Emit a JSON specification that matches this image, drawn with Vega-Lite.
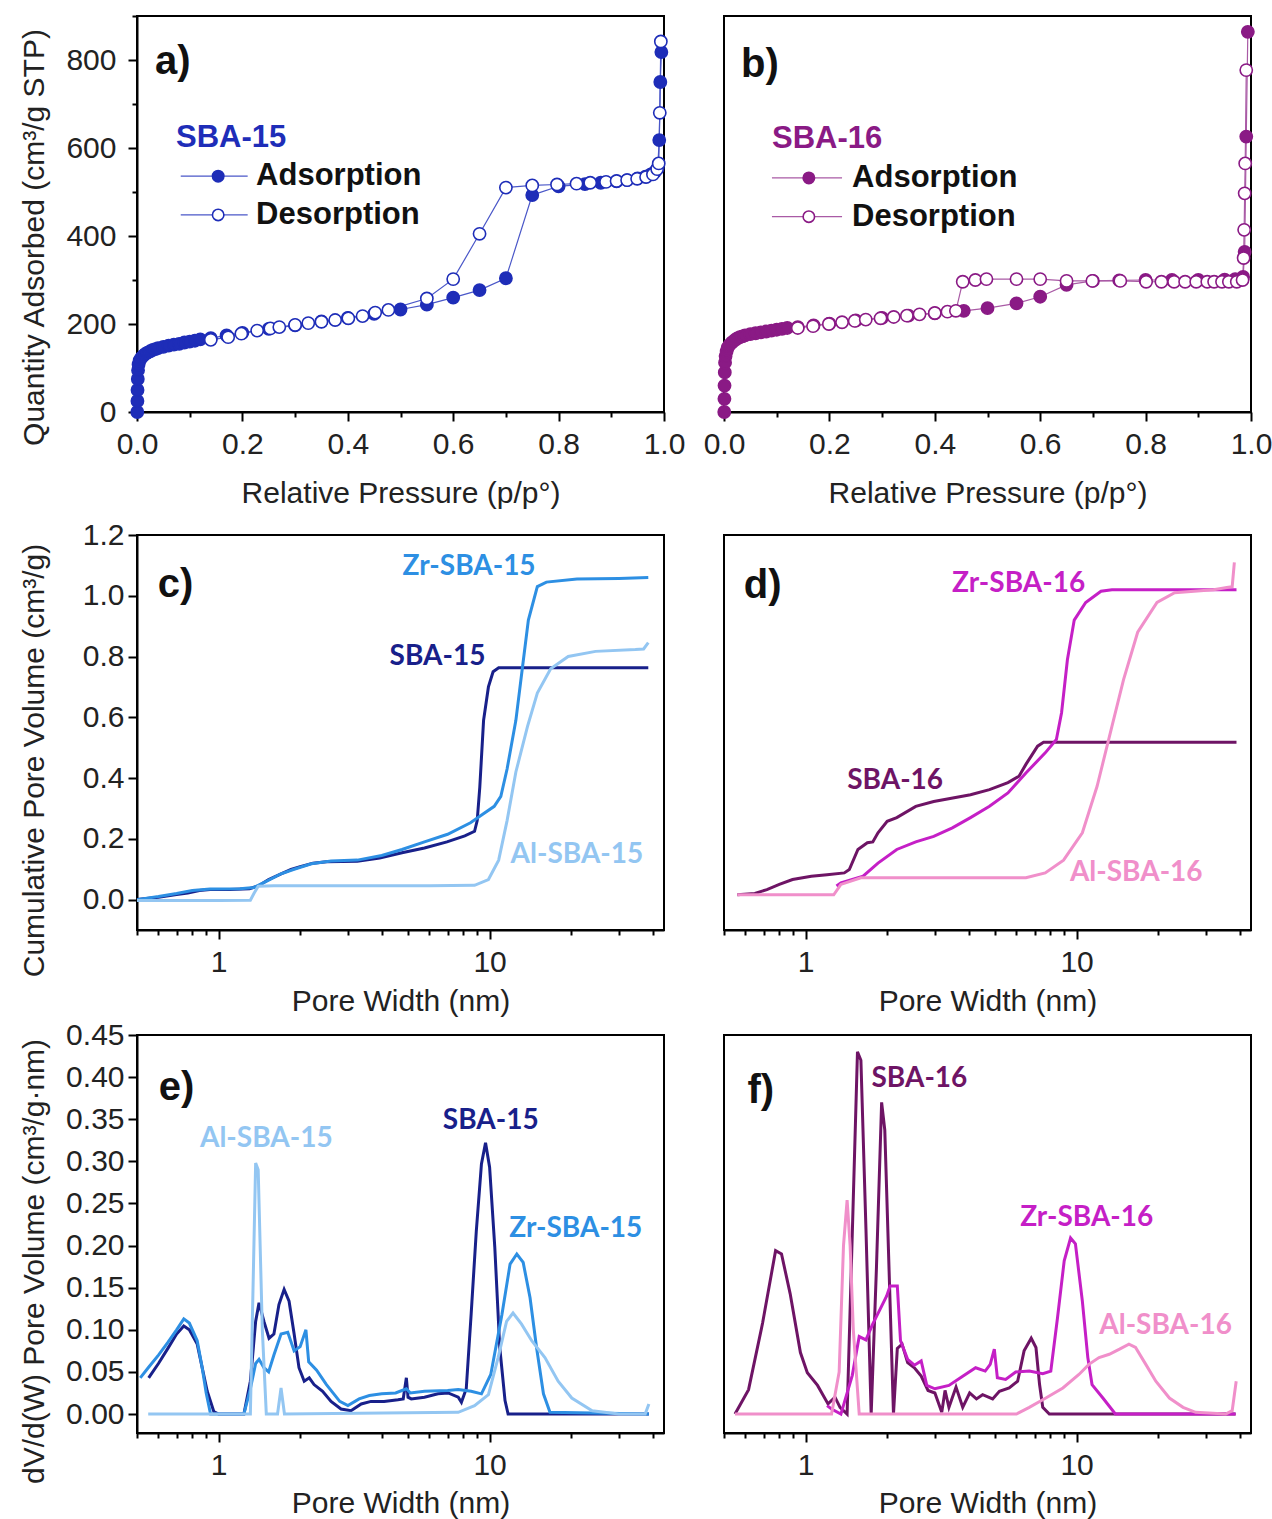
{
"$schema": "https://vega.github.io/schema/vega-lite/v6.json",
"background": "white",
"padding": {"left": 17, "top": 0, "right": 5, "bottom": 0},
"config": {
  "font": "Liberation Sans",
  "view": {"stroke": "black", "strokeWidth": 2},
  "axis": {"grid": false, "domainColor": "black", "domainWidth": 2, "tickColor": "black", "tickWidth": 2,
           "labelFont": "Liberation Sans", "labelFontSize": 30, "labelColor": "#222222", "labelOverlap": false, "labelFlush": false,
           "titleFont": "Liberation Sans", "titleFontSize": 30, "titleFontWeight": "normal", "titleColor": "#222222"}
},
"datasets": {
"iso": [
{"g":"a","s":"ads","x":0.0005,"y":0},{"g":"a","s":"ads","x":0.0008,"y":25},{"g":"a","s":"ads","x":0.001,"y":50},{"g":"a","s":"ads","x":0.0015,"y":75},{"g":"a","s":"ads","x":0.002,"y":95},{"g":"a","s":"ads","x":0.003,"y":108},{"g":"a","s":"ads","x":0.005,"y":117},{"g":"a","s":"ads","x":0.008,"y":123},{"g":"a","s":"ads","x":0.012,"y":128},{"g":"a","s":"ads","x":0.016,"y":132},{"g":"a","s":"ads","x":0.02,"y":135},{"g":"a","s":"ads","x":0.025,"y":138},{"g":"a","s":"ads","x":0.03,"y":141},{"g":"a","s":"ads","x":0.035,"y":143},{"g":"a","s":"ads","x":0.04,"y":145},{"g":"a","s":"ads","x":0.05,"y":148},{"g":"a","s":"ads","x":0.06,"y":151},{"g":"a","s":"ads","x":0.07,"y":153},{"g":"a","s":"ads","x":0.08,"y":155},{"g":"a","s":"ads","x":0.09,"y":158},{"g":"a","s":"ads","x":0.1,"y":160},{"g":"a","s":"ads","x":0.11,"y":162},{"g":"a","s":"ads","x":0.12,"y":165},{"g":"a","s":"ads","x":0.14,"y":168},{"g":"a","s":"ads","x":0.17,"y":174},{"g":"a","s":"ads","x":0.2,"y":180},{"g":"a","s":"ads","x":0.25,"y":189},{"g":"a","s":"ads","x":0.3,"y":197},{"g":"a","s":"ads","x":0.35,"y":206},{"g":"a","s":"ads","x":0.4,"y":214},{"g":"a","s":"ads","x":0.45,"y":223},{"g":"a","s":"ads","x":0.5,"y":233},{"g":"a","s":"ads","x":0.55,"y":244},{"g":"a","s":"ads","x":0.6,"y":260},{"g":"a","s":"ads","x":0.65,"y":277},{"g":"a","s":"ads","x":0.7,"y":304},{"g":"a","s":"ads","x":0.75,"y":493},{"g":"a","s":"ads","x":0.8,"y":513},{"g":"a","s":"ads","x":0.85,"y":518},{"g":"a","s":"ads","x":0.88,"y":521},{"g":"a","s":"ads","x":0.91,"y":524},{"g":"a","s":"ads","x":0.93,"y":527},{"g":"a","s":"ads","x":0.95,"y":531},{"g":"a","s":"ads","x":0.965,"y":535},{"g":"a","s":"ads","x":0.975,"y":540},{"g":"a","s":"ads","x":0.983,"y":546},{"g":"a","s":"ads","x":0.988,"y":555},{"g":"a","s":"ads","x":0.991,"y":618},{"g":"a","s":"ads","x":0.993,"y":750},{"g":"a","s":"ads","x":0.995,"y":818},
{"g":"a","s":"des","x":0.14,"y":164},{"g":"a","s":"des","x":0.173,"y":170},{"g":"a","s":"des","x":0.198,"y":178},{"g":"a","s":"des","x":0.228,"y":185},{"g":"a","s":"des","x":0.253,"y":190},{"g":"a","s":"des","x":0.27,"y":193},{"g":"a","s":"des","x":0.3,"y":198},{"g":"a","s":"des","x":0.325,"y":202},{"g":"a","s":"des","x":0.35,"y":205},{"g":"a","s":"des","x":0.376,"y":209},{"g":"a","s":"des","x":0.401,"y":213},{"g":"a","s":"des","x":0.428,"y":218},{"g":"a","s":"des","x":0.452,"y":226},{"g":"a","s":"des","x":0.477,"y":232},{"g":"a","s":"des","x":0.55,"y":258},{"g":"a","s":"des","x":0.6,"y":302},{"g":"a","s":"des","x":0.65,"y":405},{"g":"a","s":"des","x":0.7,"y":510},{"g":"a","s":"des","x":0.75,"y":515},{"g":"a","s":"des","x":0.797,"y":517},{"g":"a","s":"des","x":0.834,"y":519},{"g":"a","s":"des","x":0.86,"y":521},{"g":"a","s":"des","x":0.89,"y":523},{"g":"a","s":"des","x":0.91,"y":525},{"g":"a","s":"des","x":0.93,"y":527},{"g":"a","s":"des","x":0.949,"y":530},{"g":"a","s":"des","x":0.966,"y":534},{"g":"a","s":"des","x":0.979,"y":540},{"g":"a","s":"des","x":0.987,"y":552},{"g":"a","s":"des","x":0.99,"y":565},{"g":"a","s":"des","x":0.992,"y":680},{"g":"a","s":"des","x":0.994,"y":842},
{"g":"b","s":"ads","x":0.0005,"y":0},{"g":"b","s":"ads","x":0.0008,"y":30},{"g":"b","s":"ads","x":0.001,"y":60},{"g":"b","s":"ads","x":0.0015,"y":90},{"g":"b","s":"ads","x":0.002,"y":112},{"g":"b","s":"ads","x":0.003,"y":127},{"g":"b","s":"ads","x":0.005,"y":138},{"g":"b","s":"ads","x":0.007,"y":146},{"g":"b","s":"ads","x":0.01,"y":152},{"g":"b","s":"ads","x":0.015,"y":158},{"g":"b","s":"ads","x":0.02,"y":163},{"g":"b","s":"ads","x":0.025,"y":167},{"g":"b","s":"ads","x":0.03,"y":170},{"g":"b","s":"ads","x":0.035,"y":172},{"g":"b","s":"ads","x":0.04,"y":174},{"g":"b","s":"ads","x":0.05,"y":177},{"g":"b","s":"ads","x":0.06,"y":179},{"g":"b","s":"ads","x":0.07,"y":181},{"g":"b","s":"ads","x":0.08,"y":183},{"g":"b","s":"ads","x":0.09,"y":185},{"g":"b","s":"ads","x":0.1,"y":187},{"g":"b","s":"ads","x":0.11,"y":189},{"g":"b","s":"ads","x":0.12,"y":191},{"g":"b","s":"ads","x":0.14,"y":193},{"g":"b","s":"ads","x":0.17,"y":197},{"g":"b","s":"ads","x":0.2,"y":201},{"g":"b","s":"ads","x":0.25,"y":208},{"g":"b","s":"ads","x":0.3,"y":214},{"g":"b","s":"ads","x":0.35,"y":219},{"g":"b","s":"ads","x":0.4,"y":224},{"g":"b","s":"ads","x":0.455,"y":230},{"g":"b","s":"ads","x":0.5,"y":236},{"g":"b","s":"ads","x":0.555,"y":247},{"g":"b","s":"ads","x":0.6,"y":262},{"g":"b","s":"ads","x":0.65,"y":289},{"g":"b","s":"ads","x":0.7,"y":298},{"g":"b","s":"ads","x":0.75,"y":299},{"g":"b","s":"ads","x":0.8,"y":300},{"g":"b","s":"ads","x":0.85,"y":300},{"g":"b","s":"ads","x":0.9,"y":300},{"g":"b","s":"ads","x":0.95,"y":301},{"g":"b","s":"ads","x":0.97,"y":302},{"g":"b","s":"ads","x":0.985,"y":307},{"g":"b","s":"ads","x":0.988,"y":364},{"g":"b","s":"ads","x":0.991,"y":626},{"g":"b","s":"ads","x":0.994,"y":864},
{"g":"b","s":"des","x":0.14,"y":191},{"g":"b","s":"des","x":0.169,"y":195},{"g":"b","s":"des","x":0.199,"y":200},{"g":"b","s":"des","x":0.224,"y":204},{"g":"b","s":"des","x":0.248,"y":207},{"g":"b","s":"des","x":0.269,"y":210},{"g":"b","s":"des","x":0.297,"y":213},{"g":"b","s":"des","x":0.322,"y":216},{"g":"b","s":"des","x":0.347,"y":219},{"g":"b","s":"des","x":0.371,"y":222},{"g":"b","s":"des","x":0.4,"y":225},{"g":"b","s":"des","x":0.424,"y":228},{"g":"b","s":"des","x":0.44,"y":230},{"g":"b","s":"des","x":0.453,"y":296},{"g":"b","s":"des","x":0.477,"y":300},{"g":"b","s":"des","x":0.498,"y":302},{"g":"b","s":"des","x":0.555,"y":302},{"g":"b","s":"des","x":0.6,"y":302},{"g":"b","s":"des","x":0.65,"y":298},{"g":"b","s":"des","x":0.699,"y":298},{"g":"b","s":"des","x":0.752,"y":298},{"g":"b","s":"des","x":0.801,"y":296},{"g":"b","s":"des","x":0.83,"y":296},{"g":"b","s":"des","x":0.854,"y":296},{"g":"b","s":"des","x":0.875,"y":296},{"g":"b","s":"des","x":0.896,"y":296},{"g":"b","s":"des","x":0.917,"y":296},{"g":"b","s":"des","x":0.93,"y":296},{"g":"b","s":"des","x":0.945,"y":296},{"g":"b","s":"des","x":0.958,"y":296},{"g":"b","s":"des","x":0.973,"y":296},{"g":"b","s":"des","x":0.984,"y":300},{"g":"b","s":"des","x":0.986,"y":350},{"g":"b","s":"des","x":0.987,"y":414},{"g":"b","s":"des","x":0.988,"y":497},{"g":"b","s":"des","x":0.989,"y":565},{"g":"b","s":"des","x":0.991,"y":777}
],
"legl": [
{"g":"a","s":"ads","x":0.083,"y":536},{"g":"a","s":"ads","x":0.21,"y":536},{"g":"a","s":"des","x":0.083,"y":448},{"g":"a","s":"des","x":0.21,"y":448},
{"g":"b","s":"ads","x":0.091,"y":532},{"g":"b","s":"ads","x":0.224,"y":532},{"g":"b","s":"des","x":0.091,"y":444},{"g":"b","s":"des","x":0.224,"y":444}
],
"legm": [
{"g":"a","s":"ads","x":0.154,"y":536},{"g":"a","s":"des","x":0.154,"y":448},
{"g":"b","s":"ads","x":0.161,"y":532},{"g":"b","s":"des","x":0.161,"y":444}
],
"ann": [
{"g":"a","s":"letter","t":"a)","x":0.068,"y":795},{"g":"a","s":"head","t":"SBA-15","x":0.074,"y":623},{"g":"a","s":"leg","t":"Adsorption","x":0.226,"y":536},{"g":"a","s":"leg","t":"Desorption","x":0.226,"y":448},
{"g":"b","s":"letter","t":"b)","x":0.068,"y":789},{"g":"b","s":"head","t":"SBA-16","x":0.091,"y":620},{"g":"b","s":"leg","t":"Adsorption","x":0.243,"y":532},{"g":"b","s":"leg","t":"Desorption","x":0.243,"y":444},
{"g":"c","s":"letter","t":"c)","x":0.693,"y":1.035},{"g":"c","s":"Zr-SBA-15","t":"Zr-SBA-15","x":8.4,"y":1.094},{"g":"c","s":"SBA-15","t":"SBA-15","x":6.42,"y":0.8},{"g":"c","s":"Al-SBA-15","t":"Al-SBA-15","x":21.0,"y":0.148},
{"g":"d","s":"letter","t":"d)","x":0.694,"y":1.031},{"g":"d","s":"Zr-SBA-16","t":"Zr-SBA-16","x":6.11,"y":1.038},{"g":"d","s":"SBA-16","t":"SBA-16","x":2.14,"y":0.389},{"g":"d","s":"Al-SBA-16","t":"Al-SBA-16","x":16.6,"y":0.089},
{"g":"e","s":"letter","t":"e)","x":0.7,"y":0.387},{"g":"e","s":"Al-SBA-15","t":"Al-SBA-15","x":1.5,"y":0.327},{"g":"e","s":"SBA-15","t":"SBA-15","x":10.1,"y":0.348},{"g":"e","s":"Zr-SBA-15","t":"Zr-SBA-15","x":20.8,"y":0.22},
{"g":"f","s":"letter","t":"f)","x":0.683,"y":0.384},{"g":"f","s":"SBA-16","t":"SBA-16","x":2.63,"y":0.398},{"g":"f","s":"Zr-SBA-16","t":"Zr-SBA-16","x":10.9,"y":0.233},{"g":"f","s":"Al-SBA-16","t":"Al-SBA-16","x":21.3,"y":0.105}
],
"cum": [
{"g":"c","s":"SBA-15","x":0.5,"y":0},{"g":"c","s":"SBA-15","x":0.6,"y":0.008},{"g":"c","s":"SBA-15","x":0.7,"y":0.017},{"g":"c","s":"SBA-15","x":0.77,"y":0.022},{"g":"c","s":"SBA-15","x":0.85,"y":0.03},{"g":"c","s":"SBA-15","x":0.93,"y":0.033},{"g":"c","s":"SBA-15","x":1.1,"y":0.033},{"g":"c","s":"SBA-15","x":1.3,"y":0.036},{"g":"c","s":"SBA-15","x":1.4,"y":0.045},{"g":"c","s":"SBA-15","x":1.53,"y":0.066},{"g":"c","s":"SBA-15","x":1.7,"y":0.085},{"g":"c","s":"SBA-15","x":1.85,"y":0.099},{"g":"c","s":"SBA-15","x":2.0,"y":0.108},{"g":"c","s":"SBA-15","x":2.23,"y":0.12},{"g":"c","s":"SBA-15","x":2.5,"y":0.125},{"g":"c","s":"SBA-15","x":3.25,"y":0.126},{"g":"c","s":"SBA-15","x":3.93,"y":0.137},{"g":"c","s":"SBA-15","x":4.75,"y":0.154},{"g":"c","s":"SBA-15","x":5.75,"y":0.17},{"g":"c","s":"SBA-15","x":6.96,"y":0.19},{"g":"c","s":"SBA-15","x":8.1,"y":0.21},{"g":"c","s":"SBA-15","x":8.8,"y":0.225},{"g":"c","s":"SBA-15","x":9.0,"y":0.26},{"g":"c","s":"SBA-15","x":9.2,"y":0.37},{"g":"c","s":"SBA-15","x":9.5,"y":0.59},{"g":"c","s":"SBA-15","x":9.9,"y":0.7},{"g":"c","s":"SBA-15","x":10.3,"y":0.75},{"g":"c","s":"SBA-15","x":10.8,"y":0.763},{"g":"c","s":"SBA-15","x":38.5,"y":0.763},
{"g":"c","s":"Zr-SBA-15","x":0.5,"y":0},{"g":"c","s":"Zr-SBA-15","x":0.6,"y":0.01},{"g":"c","s":"Zr-SBA-15","x":0.7,"y":0.02},{"g":"c","s":"Zr-SBA-15","x":0.8,"y":0.03},{"g":"c","s":"Zr-SBA-15","x":0.93,"y":0.035},{"g":"c","s":"Zr-SBA-15","x":1.2,"y":0.036},{"g":"c","s":"Zr-SBA-15","x":1.35,"y":0.04},{"g":"c","s":"Zr-SBA-15","x":1.5,"y":0.06},{"g":"c","s":"Zr-SBA-15","x":1.7,"y":0.085},{"g":"c","s":"Zr-SBA-15","x":1.9,"y":0.1},{"g":"c","s":"Zr-SBA-15","x":2.2,"y":0.118},{"g":"c","s":"Zr-SBA-15","x":2.6,"y":0.127},{"g":"c","s":"Zr-SBA-15","x":3.25,"y":0.13},{"g":"c","s":"Zr-SBA-15","x":4.0,"y":0.145},{"g":"c","s":"Zr-SBA-15","x":4.75,"y":0.165},{"g":"c","s":"Zr-SBA-15","x":5.75,"y":0.19},{"g":"c","s":"Zr-SBA-15","x":7.0,"y":0.215},{"g":"c","s":"Zr-SBA-15","x":8.5,"y":0.253},{"g":"c","s":"Zr-SBA-15","x":9.4,"y":0.28},{"g":"c","s":"Zr-SBA-15","x":10.4,"y":0.307},{"g":"c","s":"Zr-SBA-15","x":11.0,"y":0.34},{"g":"c","s":"Zr-SBA-15","x":11.6,"y":0.43},{"g":"c","s":"Zr-SBA-15","x":12.5,"y":0.59},{"g":"c","s":"Zr-SBA-15","x":13.2,"y":0.76},{"g":"c","s":"Zr-SBA-15","x":13.9,"y":0.92},{"g":"c","s":"Zr-SBA-15","x":15.0,"y":1.03},{"g":"c","s":"Zr-SBA-15","x":16.2,"y":1.045},{"g":"c","s":"Zr-SBA-15","x":21,"y":1.055},{"g":"c","s":"Zr-SBA-15","x":30,"y":1.057},{"g":"c","s":"Zr-SBA-15","x":38.5,"y":1.06},
{"g":"c","s":"Al-SBA-15","x":0.5,"y":-0.003},{"g":"c","s":"Al-SBA-15","x":1.0,"y":-0.003},{"g":"c","s":"Al-SBA-15","x":1.31,"y":-0.002},{"g":"c","s":"Al-SBA-15","x":1.35,"y":0.02},{"g":"c","s":"Al-SBA-15","x":1.4,"y":0.044},{"g":"c","s":"Al-SBA-15","x":1.6,"y":0.046},{"g":"c","s":"Al-SBA-15","x":6,"y":0.046},{"g":"c","s":"Al-SBA-15","x":8.8,"y":0.047},{"g":"c","s":"Al-SBA-15","x":9.9,"y":0.066},{"g":"c","s":"Al-SBA-15","x":10.8,"y":0.13},{"g":"c","s":"Al-SBA-15","x":11.6,"y":0.26},{"g":"c","s":"Al-SBA-15","x":12.5,"y":0.42},{"g":"c","s":"Al-SBA-15","x":13.8,"y":0.57},{"g":"c","s":"Al-SBA-15","x":15.0,"y":0.68},{"g":"c","s":"Al-SBA-15","x":16.8,"y":0.76},{"g":"c","s":"Al-SBA-15","x":19.5,"y":0.8},{"g":"c","s":"Al-SBA-15","x":24.6,"y":0.817},{"g":"c","s":"Al-SBA-15","x":34.5,"y":0.823},{"g":"c","s":"Al-SBA-15","x":37,"y":0.825},{"g":"c","s":"Al-SBA-15","x":38.5,"y":0.846},
{"g":"d","s":"SBA-16","x":0.56,"y":0.016},{"g":"d","s":"SBA-16","x":0.65,"y":0.02},{"g":"d","s":"SBA-16","x":0.72,"y":0.033},{"g":"d","s":"SBA-16","x":0.8,"y":0.05},{"g":"d","s":"SBA-16","x":0.895,"y":0.066},{"g":"d","s":"SBA-16","x":1.05,"y":0.077},{"g":"d","s":"SBA-16","x":1.2,"y":0.082},{"g":"d","s":"SBA-16","x":1.39,"y":0.088},{"g":"d","s":"SBA-16","x":1.45,"y":0.099},{"g":"d","s":"SBA-16","x":1.56,"y":0.165},{"g":"d","s":"SBA-16","x":1.69,"y":0.187},{"g":"d","s":"SBA-16","x":1.77,"y":0.19},{"g":"d","s":"SBA-16","x":1.85,"y":0.22},{"g":"d","s":"SBA-16","x":2.0,"y":0.258},{"g":"d","s":"SBA-16","x":2.17,"y":0.27},{"g":"d","s":"SBA-16","x":2.55,"y":0.307},{"g":"d","s":"SBA-16","x":2.97,"y":0.323},{"g":"d","s":"SBA-16","x":4.06,"y":0.345},{"g":"d","s":"SBA-16","x":4.77,"y":0.362},{"g":"d","s":"SBA-16","x":5.58,"y":0.385},{"g":"d","s":"SBA-16","x":6.13,"y":0.406},{"g":"d","s":"SBA-16","x":6.5,"y":0.445},{"g":"d","s":"SBA-16","x":7.18,"y":0.505},{"g":"d","s":"SBA-16","x":7.55,"y":0.518},{"g":"d","s":"SBA-16","x":38.9,"y":0.518},
{"g":"d","s":"Zr-SBA-16","x":1.3,"y":0.045},{"g":"d","s":"Zr-SBA-16","x":1.35,"y":0.055},{"g":"d","s":"Zr-SBA-16","x":1.63,"y":0.077},{"g":"d","s":"Zr-SBA-16","x":1.85,"y":0.12},{"g":"d","s":"Zr-SBA-16","x":2.17,"y":0.165},{"g":"d","s":"Zr-SBA-16","x":2.55,"y":0.19},{"g":"d","s":"Zr-SBA-16","x":2.97,"y":0.208},{"g":"d","s":"Zr-SBA-16","x":3.48,"y":0.236},{"g":"d","s":"Zr-SBA-16","x":4.06,"y":0.27},{"g":"d","s":"Zr-SBA-16","x":4.77,"y":0.307},{"g":"d","s":"Zr-SBA-16","x":5.58,"y":0.351},{"g":"d","s":"Zr-SBA-16","x":6.5,"y":0.417},{"g":"d","s":"Zr-SBA-16","x":7.66,"y":0.483},{"g":"d","s":"Zr-SBA-16","x":8.42,"y":0.527},{"g":"d","s":"Zr-SBA-16","x":8.8,"y":0.615},{"g":"d","s":"Zr-SBA-16","x":9.25,"y":0.79},{"g":"d","s":"Zr-SBA-16","x":9.8,"y":0.92},{"g":"d","s":"Zr-SBA-16","x":10.8,"y":0.978},{"g":"d","s":"Zr-SBA-16","x":12.3,"y":1.015},{"g":"d","s":"Zr-SBA-16","x":13.5,"y":1.02},{"g":"d","s":"Zr-SBA-16","x":38.9,"y":1.02},
{"g":"d","s":"Al-SBA-16","x":0.56,"y":0.016},{"g":"d","s":"Al-SBA-16","x":1.27,"y":0.016},{"g":"d","s":"Al-SBA-16","x":1.35,"y":0.05},{"g":"d","s":"Al-SBA-16","x":1.6,"y":0.072},{"g":"d","s":"Al-SBA-16","x":6.5,"y":0.072},{"g":"d","s":"Al-SBA-16","x":7.66,"y":0.088},{"g":"d","s":"Al-SBA-16","x":8.95,"y":0.13},{"g":"d","s":"Al-SBA-16","x":10.5,"y":0.22},{"g":"d","s":"Al-SBA-16","x":11.9,"y":0.373},{"g":"d","s":"Al-SBA-16","x":13.5,"y":0.57},{"g":"d","s":"Al-SBA-16","x":14.9,"y":0.724},{"g":"d","s":"Al-SBA-16","x":16.8,"y":0.88},{"g":"d","s":"Al-SBA-16","x":19.8,"y":0.978},{"g":"d","s":"Al-SBA-16","x":23.0,"y":1.01},{"g":"d","s":"Al-SBA-16","x":32.0,"y":1.02},{"g":"d","s":"Al-SBA-16","x":36.3,"y":1.028},{"g":"d","s":"Al-SBA-16","x":37.5,"y":1.03},{"g":"d","s":"Al-SBA-16","x":38.2,"y":1.11}
],
"psd": [
{"g":"e","s":"SBA-15","x":0.552,"y":0.043},{"g":"e","s":"SBA-15","x":0.6,"y":0.06},{"g":"e","s":"SBA-15","x":0.65,"y":0.078},{"g":"e","s":"SBA-15","x":0.7,"y":0.095},{"g":"e","s":"SBA-15","x":0.744,"y":0.1045},{"g":"e","s":"SBA-15","x":0.78,"y":0.1},{"g":"e","s":"SBA-15","x":0.834,"y":0.083},{"g":"e","s":"SBA-15","x":0.87,"y":0.055},{"g":"e","s":"SBA-15","x":0.908,"y":0.027},{"g":"e","s":"SBA-15","x":0.96,"y":0.003},{"g":"e","s":"SBA-15","x":1.0,"y":0},{"g":"e","s":"SBA-15","x":1.24,"y":0},{"g":"e","s":"SBA-15","x":1.31,"y":0.039},{"g":"e","s":"SBA-15","x":1.37,"y":0.11},{"g":"e","s":"SBA-15","x":1.41,"y":0.132},{"g":"e","s":"SBA-15","x":1.47,"y":0.11},{"g":"e","s":"SBA-15","x":1.535,"y":0.09},{"g":"e","s":"SBA-15","x":1.6,"y":0.095},{"g":"e","s":"SBA-15","x":1.67,"y":0.13},{"g":"e","s":"SBA-15","x":1.745,"y":0.148},{"g":"e","s":"SBA-15","x":1.82,"y":0.134},{"g":"e","s":"SBA-15","x":1.9,"y":0.095},{"g":"e","s":"SBA-15","x":1.98,"y":0.055},{"g":"e","s":"SBA-15","x":2.07,"y":0.039},{"g":"e","s":"SBA-15","x":2.16,"y":0.043},{"g":"e","s":"SBA-15","x":2.25,"y":0.035},{"g":"e","s":"SBA-15","x":2.42,"y":0.027},{"g":"e","s":"SBA-15","x":2.6,"y":0.015},{"g":"e","s":"SBA-15","x":2.83,"y":0.006},{"g":"e","s":"SBA-15","x":3.08,"y":0.004},{"g":"e","s":"SBA-15","x":3.36,"y":0.012},{"g":"e","s":"SBA-15","x":3.65,"y":0.015},{"g":"e","s":"SBA-15","x":4.08,"y":0.015},{"g":"e","s":"SBA-15","x":4.59,"y":0.017},{"g":"e","s":"SBA-15","x":4.8,"y":0.018},{"g":"e","s":"SBA-15","x":4.93,"y":0.043},{"g":"e","s":"SBA-15","x":5.0,"y":0.02},{"g":"e","s":"SBA-15","x":5.14,"y":0.018},{"g":"e","s":"SBA-15","x":5.75,"y":0.02},{"g":"e","s":"SBA-15","x":6.45,"y":0.024},{"g":"e","s":"SBA-15","x":7.03,"y":0.025},{"g":"e","s":"SBA-15","x":7.66,"y":0.02},{"g":"e","s":"SBA-15","x":7.87,"y":0.014},{"g":"e","s":"SBA-15","x":8.2,"y":0.03},{"g":"e","s":"SBA-15","x":8.55,"y":0.119},{"g":"e","s":"SBA-15","x":8.93,"y":0.217},{"g":"e","s":"SBA-15","x":9.33,"y":0.297},{"g":"e","s":"SBA-15","x":9.66,"y":0.322},{"g":"e","s":"SBA-15","x":10.0,"y":0.293},{"g":"e","s":"SBA-15","x":10.45,"y":0.198},{"g":"e","s":"SBA-15","x":10.9,"y":0.079},{"g":"e","s":"SBA-15","x":11.4,"y":0.016},{"g":"e","s":"SBA-15","x":11.7,"y":0},{"g":"e","s":"SBA-15","x":38.7,"y":0},
{"g":"e","s":"Zr-SBA-15","x":0.514,"y":0.043},{"g":"e","s":"Zr-SBA-15","x":0.55,"y":0.055},{"g":"e","s":"Zr-SBA-15","x":0.6,"y":0.07},{"g":"e","s":"Zr-SBA-15","x":0.65,"y":0.085},{"g":"e","s":"Zr-SBA-15","x":0.7,"y":0.1},{"g":"e","s":"Zr-SBA-15","x":0.744,"y":0.113},{"g":"e","s":"Zr-SBA-15","x":0.78,"y":0.108},{"g":"e","s":"Zr-SBA-15","x":0.834,"y":0.087},{"g":"e","s":"Zr-SBA-15","x":0.87,"y":0.055},{"g":"e","s":"Zr-SBA-15","x":0.9,"y":0.025},{"g":"e","s":"Zr-SBA-15","x":0.934,"y":0},{"g":"e","s":"Zr-SBA-15","x":1.24,"y":0},{"g":"e","s":"Zr-SBA-15","x":1.31,"y":0.03},{"g":"e","s":"Zr-SBA-15","x":1.37,"y":0.06},{"g":"e","s":"Zr-SBA-15","x":1.41,"y":0.065},{"g":"e","s":"Zr-SBA-15","x":1.47,"y":0.055},{"g":"e","s":"Zr-SBA-15","x":1.53,"y":0.05},{"g":"e","s":"Zr-SBA-15","x":1.6,"y":0.07},{"g":"e","s":"Zr-SBA-15","x":1.7,"y":0.095},{"g":"e","s":"Zr-SBA-15","x":1.8,"y":0.097},{"g":"e","s":"Zr-SBA-15","x":1.9,"y":0.075},{"g":"e","s":"Zr-SBA-15","x":2.0,"y":0.08},{"g":"e","s":"Zr-SBA-15","x":2.1,"y":0.1},{"g":"e","s":"Zr-SBA-15","x":2.15,"y":0.062},{"g":"e","s":"Zr-SBA-15","x":2.3,"y":0.052},{"g":"e","s":"Zr-SBA-15","x":2.5,"y":0.035},{"g":"e","s":"Zr-SBA-15","x":2.8,"y":0.015},{"g":"e","s":"Zr-SBA-15","x":3.0,"y":0.01},{"g":"e","s":"Zr-SBA-15","x":3.3,"y":0.018},{"g":"e","s":"Zr-SBA-15","x":3.6,"y":0.022},{"g":"e","s":"Zr-SBA-15","x":4.0,"y":0.024},{"g":"e","s":"Zr-SBA-15","x":4.5,"y":0.025},{"g":"e","s":"Zr-SBA-15","x":4.93,"y":0.03},{"g":"e","s":"Zr-SBA-15","x":5.1,"y":0.025},{"g":"e","s":"Zr-SBA-15","x":5.75,"y":0.027},{"g":"e","s":"Zr-SBA-15","x":7.0,"y":0.028},{"g":"e","s":"Zr-SBA-15","x":7.66,"y":0.029},{"g":"e","s":"Zr-SBA-15","x":8.55,"y":0.027},{"g":"e","s":"Zr-SBA-15","x":9.33,"y":0.024},{"g":"e","s":"Zr-SBA-15","x":10.1,"y":0.047},{"g":"e","s":"Zr-SBA-15","x":11.1,"y":0.118},{"g":"e","s":"Zr-SBA-15","x":11.9,"y":0.178},{"g":"e","s":"Zr-SBA-15","x":12.6,"y":0.19},{"g":"e","s":"Zr-SBA-15","x":13.3,"y":0.18},{"g":"e","s":"Zr-SBA-15","x":14.1,"y":0.138},{"g":"e","s":"Zr-SBA-15","x":14.9,"y":0.079},{"g":"e","s":"Zr-SBA-15","x":15.8,"y":0.024},{"g":"e","s":"Zr-SBA-15","x":16.7,"y":0.002},{"g":"e","s":"Zr-SBA-15","x":38.7,"y":0},
{"g":"e","s":"Al-SBA-15","x":0.55,"y":0},{"g":"e","s":"Al-SBA-15","x":1.31,"y":0},{"g":"e","s":"Al-SBA-15","x":1.34,"y":0.15},{"g":"e","s":"Al-SBA-15","x":1.37,"y":0.298},{"g":"e","s":"Al-SBA-15","x":1.4,"y":0.29},{"g":"e","s":"Al-SBA-15","x":1.45,"y":0.1},{"g":"e","s":"Al-SBA-15","x":1.5,"y":0},{"g":"e","s":"Al-SBA-15","x":1.65,"y":0},{"g":"e","s":"Al-SBA-15","x":1.7,"y":0.031},{"g":"e","s":"Al-SBA-15","x":1.75,"y":0},{"g":"e","s":"Al-SBA-15","x":7.66,"y":0.002},{"g":"e","s":"Al-SBA-15","x":8.8,"y":0.01},{"g":"e","s":"Al-SBA-15","x":9.9,"y":0.023},{"g":"e","s":"Al-SBA-15","x":10.75,"y":0.067},{"g":"e","s":"Al-SBA-15","x":11.55,"y":0.11},{"g":"e","s":"Al-SBA-15","x":12.2,"y":0.12},{"g":"e","s":"Al-SBA-15","x":13.1,"y":0.107},{"g":"e","s":"Al-SBA-15","x":14.3,"y":0.087},{"g":"e","s":"Al-SBA-15","x":16.0,"y":0.067},{"g":"e","s":"Al-SBA-15","x":17.9,"y":0.039},{"g":"e","s":"Al-SBA-15","x":20.1,"y":0.019},{"g":"e","s":"Al-SBA-15","x":23.9,"y":0.004},{"g":"e","s":"Al-SBA-15","x":30,"y":0},{"g":"e","s":"Al-SBA-15","x":37.5,"y":0},{"g":"e","s":"Al-SBA-15","x":38.7,"y":0.012},
{"g":"f","s":"SBA-16","x":0.549,"y":0},{"g":"f","s":"SBA-16","x":0.616,"y":0.029},{"g":"f","s":"SBA-16","x":0.694,"y":0.108},{"g":"f","s":"SBA-16","x":0.775,"y":0.194},{"g":"f","s":"SBA-16","x":0.815,"y":0.19},{"g":"f","s":"SBA-16","x":0.877,"y":0.143},{"g":"f","s":"SBA-16","x":0.957,"y":0.073},{"g":"f","s":"SBA-16","x":1.015,"y":0.049},{"g":"f","s":"SBA-16","x":1.107,"y":0.034},{"g":"f","s":"SBA-16","x":1.21,"y":0.012},{"g":"f","s":"SBA-16","x":1.284,"y":0.02},{"g":"f","s":"SBA-16","x":1.34,"y":0.008},{"g":"f","s":"SBA-16","x":1.423,"y":0},{"g":"f","s":"SBA-16","x":1.487,"y":0.214},{"g":"f","s":"SBA-16","x":1.554,"y":0.43},{"g":"f","s":"SBA-16","x":1.6,"y":0.42},{"g":"f","s":"SBA-16","x":1.67,"y":0.22},{"g":"f","s":"SBA-16","x":1.746,"y":0},{"g":"f","s":"SBA-16","x":1.825,"y":0.172},{"g":"f","s":"SBA-16","x":1.908,"y":0.37},{"g":"f","s":"SBA-16","x":1.96,"y":0.337},{"g":"f","s":"SBA-16","x":2.05,"y":0.132},{"g":"f","s":"SBA-16","x":2.11,"y":0},{"g":"f","s":"SBA-16","x":2.18,"y":0.078},{"g":"f","s":"SBA-16","x":2.27,"y":0.083},{"g":"f","s":"SBA-16","x":2.38,"y":0.061},{"g":"f","s":"SBA-16","x":2.52,"y":0.055},{"g":"f","s":"SBA-16","x":2.67,"y":0.045},{"g":"f","s":"SBA-16","x":2.83,"y":0.028},{"g":"f","s":"SBA-16","x":3.0,"y":0.025},{"g":"f","s":"SBA-16","x":3.18,"y":0.002},{"g":"f","s":"SBA-16","x":3.27,"y":0.028},{"g":"f","s":"SBA-16","x":3.38,"y":0.008},{"g":"f","s":"SBA-16","x":3.59,"y":0.032},{"g":"f","s":"SBA-16","x":3.8,"y":0.008},{"g":"f","s":"SBA-16","x":4.03,"y":0.025},{"g":"f","s":"SBA-16","x":4.27,"y":0.018},{"g":"f","s":"SBA-16","x":4.5,"y":0.023},{"g":"f","s":"SBA-16","x":4.9,"y":0.018},{"g":"f","s":"SBA-16","x":5.19,"y":0.027},{"g":"f","s":"SBA-16","x":5.64,"y":0.031},{"g":"f","s":"SBA-16","x":6.06,"y":0.039},{"g":"f","s":"SBA-16","x":6.4,"y":0.075},{"g":"f","s":"SBA-16","x":6.8,"y":0.09},{"g":"f","s":"SBA-16","x":7.08,"y":0.079},{"g":"f","s":"SBA-16","x":7.3,"y":0.035},{"g":"f","s":"SBA-16","x":7.5,"y":0.008},{"g":"f","s":"SBA-16","x":7.93,"y":0},{"g":"f","s":"SBA-16","x":38.6,"y":0},
{"g":"f","s":"Zr-SBA-16","x":1.2,"y":0.01},{"g":"f","s":"Zr-SBA-16","x":1.247,"y":0.006},{"g":"f","s":"Zr-SBA-16","x":1.35,"y":0},{"g":"f","s":"Zr-SBA-16","x":1.487,"y":0.046},{"g":"f","s":"Zr-SBA-16","x":1.577,"y":0.092},{"g":"f","s":"Zr-SBA-16","x":1.67,"y":0.088},{"g":"f","s":"Zr-SBA-16","x":1.77,"y":0.107},{"g":"f","s":"Zr-SBA-16","x":1.88,"y":0.124},{"g":"f","s":"Zr-SBA-16","x":1.99,"y":0.14},{"g":"f","s":"Zr-SBA-16","x":2.05,"y":0.152},{"g":"f","s":"Zr-SBA-16","x":2.18,"y":0.152},{"g":"f","s":"Zr-SBA-16","x":2.24,"y":0.087},{"g":"f","s":"Zr-SBA-16","x":2.38,"y":0.065},{"g":"f","s":"Zr-SBA-16","x":2.52,"y":0.058},{"g":"f","s":"Zr-SBA-16","x":2.67,"y":0.063},{"g":"f","s":"Zr-SBA-16","x":2.8,"y":0.034},{"g":"f","s":"Zr-SBA-16","x":3.0,"y":0.03},{"g":"f","s":"Zr-SBA-16","x":3.38,"y":0.034},{"g":"f","s":"Zr-SBA-16","x":3.8,"y":0.045},{"g":"f","s":"Zr-SBA-16","x":4.24,"y":0.055},{"g":"f","s":"Zr-SBA-16","x":4.6,"y":0.051},{"g":"f","s":"Zr-SBA-16","x":4.8,"y":0.059},{"g":"f","s":"Zr-SBA-16","x":4.97,"y":0.077},{"g":"f","s":"Zr-SBA-16","x":5.1,"y":0.043},{"g":"f","s":"Zr-SBA-16","x":5.47,"y":0.041},{"g":"f","s":"Zr-SBA-16","x":5.96,"y":0.05},{"g":"f","s":"Zr-SBA-16","x":6.69,"y":0.051},{"g":"f","s":"Zr-SBA-16","x":7.5,"y":0.048},{"g":"f","s":"Zr-SBA-16","x":8.03,"y":0.051},{"g":"f","s":"Zr-SBA-16","x":8.5,"y":0.114},{"g":"f","s":"Zr-SBA-16","x":9.0,"y":0.182},{"g":"f","s":"Zr-SBA-16","x":9.5,"y":0.209},{"g":"f","s":"Zr-SBA-16","x":9.9,"y":0.202},{"g":"f","s":"Zr-SBA-16","x":10.5,"y":0.134},{"g":"f","s":"Zr-SBA-16","x":11.0,"y":0.067},{"g":"f","s":"Zr-SBA-16","x":11.4,"y":0.035},{"g":"f","s":"Zr-SBA-16","x":12.5,"y":0.019},{"g":"f","s":"Zr-SBA-16","x":13.9,"y":0},{"g":"f","s":"Zr-SBA-16","x":38.6,"y":0},
{"g":"f","s":"Al-SBA-16","x":0.549,"y":0},{"g":"f","s":"Al-SBA-16","x":1.247,"y":0},{"g":"f","s":"Al-SBA-16","x":1.33,"y":0.05},{"g":"f","s":"Al-SBA-16","x":1.38,"y":0.2},{"g":"f","s":"Al-SBA-16","x":1.423,"y":0.254},{"g":"f","s":"Al-SBA-16","x":1.46,"y":0.2},{"g":"f","s":"Al-SBA-16","x":1.5,"y":0.1},{"g":"f","s":"Al-SBA-16","x":1.577,"y":0},{"g":"f","s":"Al-SBA-16","x":6.0,"y":0},{"g":"f","s":"Al-SBA-16","x":6.69,"y":0.008},{"g":"f","s":"Al-SBA-16","x":7.7,"y":0.019},{"g":"f","s":"Al-SBA-16","x":8.9,"y":0.031},{"g":"f","s":"Al-SBA-16","x":10.2,"y":0.047},{"g":"f","s":"Al-SBA-16","x":11.1,"y":0.059},{"g":"f","s":"Al-SBA-16","x":12.1,"y":0.067},{"g":"f","s":"Al-SBA-16","x":13.2,"y":0.071},{"g":"f","s":"Al-SBA-16","x":14.4,"y":0.077},{"g":"f","s":"Al-SBA-16","x":15.6,"y":0.083},{"g":"f","s":"Al-SBA-16","x":16.5,"y":0.079},{"g":"f","s":"Al-SBA-16","x":18.0,"y":0.059},{"g":"f","s":"Al-SBA-16","x":19.6,"y":0.039},{"g":"f","s":"Al-SBA-16","x":22.0,"y":0.019},{"g":"f","s":"Al-SBA-16","x":24.7,"y":0.008},{"g":"f","s":"Al-SBA-16","x":27.5,"y":0.002},{"g":"f","s":"Al-SBA-16","x":35.5,"y":0},{"g":"f","s":"Al-SBA-16","x":37.5,"y":0.004},{"g":"f","s":"Al-SBA-16","x":38.8,"y":0.039}
]
},
"spacing": 10,
"resolve": {"scale": {"color": "independent", "fill": "independent"}},
"vconcat": [
{"hconcat": [
 {"width": 527, "height": 396, "layer": [
  {"data": {"name": "iso"}, "transform": [{"filter": "datum.g == 'a'"}], "mark": {"type": "line", "color": "#4a57c8", "strokeWidth": 1.2},
   "encoding": {"x": {"field": "x", "type": "quantitative", "scale": {"domain": [0, 1], "nice": false, "zero": false},
      "axis": {"title": "Relative Pressure (p/p°)", "values": [0,0.1,0.2,0.3,0.4,0.5,0.6,0.7,0.8,0.9,1], "labelExpr": "round(datum.value*10) % 2 == 0 ? format(datum.value, '.1f') : ''", "tickSize": {"condition": {"test": "round(datum.value*10) % 2 == 0", "value": 9}, "value": 5}, "labelPadding": 8, "titleY": 81, "titleBaseline": "middle"}},
    "y": {"field": "y", "type": "quantitative", "scale": {"domain": [0, 900], "nice": false},
      "axis": {"title": "Quantity Adsorbed (cm³/g STP)", "values": [0,100,200,300,400,500,600,700,800,900], "labelExpr": "datum.value % 200 == 0 ? format(datum.value, 'd') : ''", "tickSize": {"condition": {"test": "datum.value % 200 == 0", "value": 9}, "value": 5}, "labelPadding": 12, "titleX": -103, "titleY": 221, "titleBaseline": "middle"}},
    "detail": {"field": "s"}}},
  {"data": {"name": "legl"}, "transform": [{"filter": "datum.g == 'a'"}], "mark": {"type": "line", "color": "#4a57c8", "strokeWidth": 1.2},
   "encoding": {"x": {"field": "x", "type": "quantitative"}, "y": {"field": "y", "type": "quantitative"}, "detail": {"field": "s"}}},
  {"data": {"name": "iso"}, "transform": [{"filter": "datum.g == 'a'"}], "mark": {"type": "point", "shape": "circle", "size": 150, "stroke": "#1e2db8", "strokeWidth": 1.6, "opacity": 1},
   "encoding": {"x": {"field": "x", "type": "quantitative"}, "y": {"field": "y", "type": "quantitative"},
    "fill": {"field": "s", "type": "nominal", "scale": {"domain": ["ads", "des"], "range": ["#1e2db8", "#ffffff"]}, "legend": null}}},
  {"data": {"name": "legm"}, "transform": [{"filter": "datum.g == 'a'"}], "mark": {"type": "point", "shape": "circle", "size": 130, "stroke": "#1e2db8", "strokeWidth": 1.6, "opacity": 1},
   "encoding": {"x": {"field": "x", "type": "quantitative"}, "y": {"field": "y", "type": "quantitative"},
    "fill": {"field": "s", "type": "nominal", "scale": {"domain": ["ads", "des"], "range": ["#1e2db8", "#ffffff"]}, "legend": null}}},
  {"data": {"name": "ann"}, "transform": [{"filter": "datum.g == 'a' && datum.s == 'head'"}], "mark": {"type": "text", "align": "left", "baseline": "middle", "fontWeight": "bold", "fontSize": 31, "color": "#1e2db8"},
   "encoding": {"x": {"field": "x", "type": "quantitative"}, "y": {"field": "y", "type": "quantitative"}, "text": {"field": "t"}}},
  {"data": {"name": "ann"}, "transform": [{"filter": "datum.g == 'a' && datum.s == 'leg'"}], "mark": {"type": "text", "align": "left", "baseline": "middle", "fontWeight": "bold", "fontSize": 31, "color": "#111111"},
   "encoding": {"x": {"field": "x", "type": "quantitative"}, "y": {"field": "y", "type": "quantitative"}, "text": {"field": "t"}}},
  {"data": {"name": "ann"}, "transform": [{"filter": "datum.g == 'a' && datum.s == 'letter'"}], "mark": {"type": "text", "align": "center", "baseline": "middle", "fontWeight": "bold", "fontSize": 40, "color": "#111111"},
   "encoding": {"x": {"field": "x", "type": "quantitative"}, "y": {"field": "y", "type": "quantitative"}, "text": {"field": "t"}}}
 ]},
 {"width": 527, "height": 396, "layer": [
  {"data": {"name": "iso"}, "transform": [{"filter": "datum.g == 'b'"}], "mark": {"type": "line", "color": "#a95aa5", "strokeWidth": 1.2},
   "encoding": {"x": {"field": "x", "type": "quantitative", "scale": {"domain": [0, 1], "nice": false, "zero": false},
      "axis": {"title": "Relative Pressure (p/p°)", "values": [0,0.1,0.2,0.3,0.4,0.5,0.6,0.7,0.8,0.9,1], "labelExpr": "round(datum.value*10) % 2 == 0 ? format(datum.value, '.1f') : ''", "tickSize": {"condition": {"test": "round(datum.value*10) % 2 == 0", "value": 9}, "value": 5}, "labelPadding": 8, "titleY": 81, "titleBaseline": "middle"}},
    "y": {"field": "y", "type": "quantitative", "scale": {"domain": [0, 900], "nice": false}, "axis": null},
    "detail": {"field": "s"}}},
  {"data": {"name": "legl"}, "transform": [{"filter": "datum.g == 'b'"}], "mark": {"type": "line", "color": "#a95aa5", "strokeWidth": 1.2},
   "encoding": {"x": {"field": "x", "type": "quantitative"}, "y": {"field": "y", "type": "quantitative"}, "detail": {"field": "s"}}},
  {"data": {"name": "iso"}, "transform": [{"filter": "datum.g == 'b'"}], "mark": {"type": "point", "shape": "circle", "size": 150, "stroke": "#8a1a85", "strokeWidth": 1.6, "opacity": 1},
   "encoding": {"x": {"field": "x", "type": "quantitative"}, "y": {"field": "y", "type": "quantitative"},
    "fill": {"field": "s", "type": "nominal", "scale": {"domain": ["ads", "des"], "range": ["#8a1a85", "#ffffff"]}, "legend": null}}},
  {"data": {"name": "legm"}, "transform": [{"filter": "datum.g == 'b'"}], "mark": {"type": "point", "shape": "circle", "size": 130, "stroke": "#8a1a85", "strokeWidth": 1.6, "opacity": 1},
   "encoding": {"x": {"field": "x", "type": "quantitative"}, "y": {"field": "y", "type": "quantitative"},
    "fill": {"field": "s", "type": "nominal", "scale": {"domain": ["ads", "des"], "range": ["#8a1a85", "#ffffff"]}, "legend": null}}},
  {"data": {"name": "ann"}, "transform": [{"filter": "datum.g == 'b' && datum.s == 'head'"}], "mark": {"type": "text", "align": "left", "baseline": "middle", "fontWeight": "bold", "fontSize": 31, "color": "#8a1a85"},
   "encoding": {"x": {"field": "x", "type": "quantitative"}, "y": {"field": "y", "type": "quantitative"}, "text": {"field": "t"}}},
  {"data": {"name": "ann"}, "transform": [{"filter": "datum.g == 'b' && datum.s == 'leg'"}], "mark": {"type": "text", "align": "left", "baseline": "middle", "fontWeight": "bold", "fontSize": 31, "color": "#111111"},
   "encoding": {"x": {"field": "x", "type": "quantitative"}, "y": {"field": "y", "type": "quantitative"}, "text": {"field": "t"}}},
  {"data": {"name": "ann"}, "transform": [{"filter": "datum.g == 'b' && datum.s == 'letter'"}], "mark": {"type": "text", "align": "center", "baseline": "middle", "fontWeight": "bold", "fontSize": 40, "color": "#111111"},
   "encoding": {"x": {"field": "x", "type": "quantitative"}, "y": {"field": "y", "type": "quantitative"}, "text": {"field": "t"}}}
 ]}
], "spacing": 60, "bounds": "flush", "resolve": {"scale": {"color": "independent", "fill": "independent"}}},
{"spacing": 2, "resolve": {"scale": {"color": "independent", "fill": "independent"}}, "vconcat": [
 {"hconcat": [
  {"width": 527, "height": 395, "layer": [
   {"data": {"name": "cum"}, "transform": [{"filter": "datum.g == 'c'"}], "mark": {"type": "line", "strokeWidth": 3},
    "encoding": {"x": {"field": "x", "type": "quantitative", "scale": {"type": "log", "domain": [0.5, 44], "nice": false},
       "axis": {"title": "Pore Width (nm)", "values": [0.5,0.6,0.7,0.8,0.9,1,2,3,4,5,6,7,8,9,10,20,30,40], "labelExpr": "datum.value == 1 ? '1' : (datum.value == 10 ? '10' : '')", "tickSize": {"condition": {"test": "datum.value == 1 || datum.value == 10", "value": 9}, "value": 5}, "labelPadding": 8, "titleY": 71, "titleBaseline": "middle"}},
     "y": {"field": "y", "type": "quantitative", "scale": {"domain": [-0.1, 1.2], "nice": false, "zero": false},
       "axis": {"title": "Cumulative Pore Volume (cm³/g)", "values": [0,0.1,0.2,0.3,0.4,0.5,0.6,0.7,0.8,0.9,1,1.1,1.2], "labelExpr": "round(datum.value*10) % 2 == 0 ? format(datum.value, '.1f') : ''", "tickSize": {"condition": {"test": "round(datum.value*10) % 2 == 0", "value": 9}, "value": 5}, "labelPadding": 4, "titleX": -103, "titleY": 225, "titleBaseline": "middle"}},
     "color": {"field": "s", "type": "nominal", "scale": {"domain": ["SBA-15", "Zr-SBA-15", "Al-SBA-15"], "range": ["#18208a", "#2d8fe3", "#93c6f2"]}, "legend": null}}},
   {"data": {"name": "ann"}, "transform": [{"filter": "datum.g == 'c' && datum.s != 'letter'"}], "mark": {"type": "text", "align": "center", "baseline": "middle", "font": "Lato", "fontWeight": "bold", "fontSize": 28},
    "encoding": {"x": {"field": "x", "type": "quantitative"}, "y": {"field": "y", "type": "quantitative"}, "text": {"field": "t"}, "color": {"field": "s", "type": "nominal", "legend": null}}},
   {"data": {"name": "ann"}, "transform": [{"filter": "datum.g == 'c' && datum.s == 'letter'"}], "mark": {"type": "text", "align": "center", "baseline": "middle", "fontWeight": "bold", "fontSize": 40, "color": "#111111"},
    "encoding": {"x": {"field": "x", "type": "quantitative"}, "y": {"field": "y", "type": "quantitative"}, "text": {"field": "t"}}}
  ]},
  {"width": 527, "height": 395, "layer": [
   {"data": {"name": "cum"}, "transform": [{"filter": "datum.g == 'd'"}], "mark": {"type": "line", "strokeWidth": 3},
    "encoding": {"x": {"field": "x", "type": "quantitative", "scale": {"type": "log", "domain": [0.5, 44], "nice": false},
       "axis": {"title": "Pore Width (nm)", "values": [0.5,0.6,0.7,0.8,0.9,1,2,3,4,5,6,7,8,9,10,20,30,40], "labelExpr": "datum.value == 1 ? '1' : (datum.value == 10 ? '10' : '')", "tickSize": {"condition": {"test": "datum.value == 1 || datum.value == 10", "value": 9}, "value": 5}, "labelPadding": 8, "titleY": 71, "titleBaseline": "middle"}},
     "y": {"field": "y", "type": "quantitative", "scale": {"domain": [-0.1, 1.2], "nice": false, "zero": false}, "axis": null},
     "color": {"field": "s", "type": "nominal", "scale": {"domain": ["SBA-16", "Zr-SBA-16", "Al-SBA-16"], "range": ["#6e1465", "#c51fc6", "#f08fca"]}, "legend": null}}},
   {"data": {"name": "ann"}, "transform": [{"filter": "datum.g == 'd' && datum.s != 'letter'"}], "mark": {"type": "text", "align": "center", "baseline": "middle", "font": "Lato", "fontWeight": "bold", "fontSize": 28},
    "encoding": {"x": {"field": "x", "type": "quantitative"}, "y": {"field": "y", "type": "quantitative"}, "text": {"field": "t"}, "color": {"field": "s", "type": "nominal", "legend": null}}},
   {"data": {"name": "ann"}, "transform": [{"filter": "datum.g == 'd' && datum.s == 'letter'"}], "mark": {"type": "text", "align": "center", "baseline": "middle", "fontWeight": "bold", "fontSize": 40, "color": "#111111"},
    "encoding": {"x": {"field": "x", "type": "quantitative"}, "y": {"field": "y", "type": "quantitative"}, "text": {"field": "t"}}}
  ]}
 ], "spacing": 60, "bounds": "flush", "resolve": {"scale": {"color": "independent"}}},
 {"hconcat": [
  {"width": 527, "height": 398, "layer": [
   {"data": {"name": "psd"}, "transform": [{"filter": "datum.g == 'e'"}], "mark": {"type": "line", "strokeWidth": 3},
    "encoding": {"x": {"field": "x", "type": "quantitative", "scale": {"type": "log", "domain": [0.5, 44], "nice": false},
       "axis": {"title": "Pore Width (nm)", "values": [0.5,0.6,0.7,0.8,0.9,1,2,3,4,5,6,7,8,9,10,20,30,40], "labelExpr": "datum.value == 1 ? '1' : (datum.value == 10 ? '10' : '')", "tickSize": {"condition": {"test": "datum.value == 1 || datum.value == 10", "value": 9}, "value": 5}, "labelPadding": 8, "titleY": 70, "titleBaseline": "middle"}},
     "y": {"field": "y", "type": "quantitative", "scale": {"domain": [-0.0225, 0.45], "nice": false, "zero": false},
       "axis": {"title": "dV/d(W) Pore Volume (cm³/g·nm)", "values": [0,0.025,0.05,0.075,0.1,0.125,0.15,0.175,0.2,0.225,0.25,0.275,0.3,0.325,0.35,0.375,0.4,0.425,0.45], "labelExpr": "round(datum.value*1000) % 50 == 0 ? format(datum.value, '.2f') : ''", "tickSize": {"condition": {"test": "round(datum.value*1000) % 50 == 0", "value": 9}, "value": 5}, "labelPadding": 4, "titleX": -103, "titleY": 226, "titleBaseline": "middle"}},
     "color": {"field": "s", "type": "nominal", "scale": {"domain": ["SBA-15", "Zr-SBA-15", "Al-SBA-15"], "range": ["#18208a", "#2d8fe3", "#93c6f2"]}, "legend": null}}},
   {"data": {"name": "ann"}, "transform": [{"filter": "datum.g == 'e' && datum.s != 'letter'"}], "mark": {"type": "text", "align": "center", "baseline": "middle", "font": "Lato", "fontWeight": "bold", "fontSize": 28},
    "encoding": {"x": {"field": "x", "type": "quantitative"}, "y": {"field": "y", "type": "quantitative"}, "text": {"field": "t"}, "color": {"field": "s", "type": "nominal", "legend": null}}},
   {"data": {"name": "ann"}, "transform": [{"filter": "datum.g == 'e' && datum.s == 'letter'"}], "mark": {"type": "text", "align": "center", "baseline": "middle", "fontWeight": "bold", "fontSize": 40, "color": "#111111"},
    "encoding": {"x": {"field": "x", "type": "quantitative"}, "y": {"field": "y", "type": "quantitative"}, "text": {"field": "t"}}}
  ]},
  {"width": 527, "height": 398, "layer": [
   {"data": {"name": "psd"}, "transform": [{"filter": "datum.g == 'f'"}], "mark": {"type": "line", "strokeWidth": 3},
    "encoding": {"x": {"field": "x", "type": "quantitative", "scale": {"type": "log", "domain": [0.5, 44], "nice": false},
       "axis": {"title": "Pore Width (nm)", "values": [0.5,0.6,0.7,0.8,0.9,1,2,3,4,5,6,7,8,9,10,20,30,40], "labelExpr": "datum.value == 1 ? '1' : (datum.value == 10 ? '10' : '')", "tickSize": {"condition": {"test": "datum.value == 1 || datum.value == 10", "value": 9}, "value": 5}, "labelPadding": 8, "titleY": 70, "titleBaseline": "middle"}},
     "y": {"field": "y", "type": "quantitative", "scale": {"domain": [-0.0225, 0.45], "nice": false, "zero": false}, "axis": null},
     "color": {"field": "s", "type": "nominal", "scale": {"domain": ["SBA-16", "Zr-SBA-16", "Al-SBA-16"], "range": ["#6e1465", "#c51fc6", "#f08fca"]}, "legend": null}}},
   {"data": {"name": "ann"}, "transform": [{"filter": "datum.g == 'f' && datum.s != 'letter'"}], "mark": {"type": "text", "align": "center", "baseline": "middle", "font": "Lato", "fontWeight": "bold", "fontSize": 28},
    "encoding": {"x": {"field": "x", "type": "quantitative"}, "y": {"field": "y", "type": "quantitative"}, "text": {"field": "t"}, "color": {"field": "s", "type": "nominal", "legend": null}}},
   {"data": {"name": "ann"}, "transform": [{"filter": "datum.g == 'f' && datum.s == 'letter'"}], "mark": {"type": "text", "align": "center", "baseline": "middle", "fontWeight": "bold", "fontSize": 40, "color": "#111111"},
    "encoding": {"x": {"field": "x", "type": "quantitative"}, "y": {"field": "y", "type": "quantitative"}, "text": {"field": "t"}}}
  ]}
 ], "spacing": 60, "bounds": "flush", "resolve": {"scale": {"color": "independent"}}}
]}
]
}
